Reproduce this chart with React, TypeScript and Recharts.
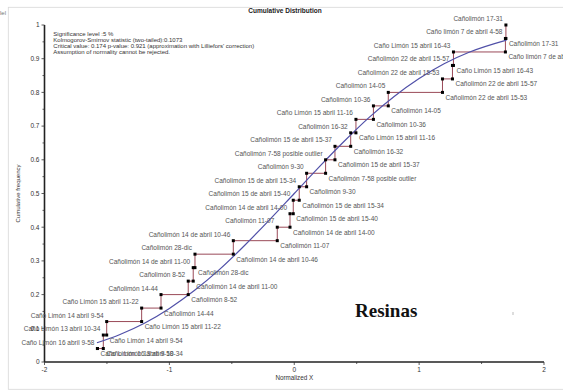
import React from 'react';
import { ComposedChart, Line, Scatter, XAxis, YAxis } from 'recharts';

// ── Observations, sorted by normalized value ─────────────────────────────────
const obsNames = [
  'Caño Limón 16 abril 9-58',
  'Caño Limón 13 abril 10-34',
  'Caño Limón 14 abril 9-54',
  'Caño Limón 15 abril 11-22',
  'Cañolimón 14-44',
  'Cañolimón 8-52',
  'Cañolimón 14 de abril 11-00',
  'Cañolimón 28-dic',
  'Cañolimón 14 de abril 10-46',
  'Cañolimón 11-07',
  'Cañolimón 14 de abril 14-00',
  'Cañolimón 15 de abril 15-40',
  'Cañolimón 15 de abril 15-34',
  'Cañolimón 9-30',
  'Cañolimón 7-58 posible outlier',
  'Cañolimón 15 de abril 15-37',
  'Cañolimón 16-32',
  'Caño Limón 15 abril 11-16',
  'Cañolimón 10-36',
  'Cañolimón 14-05',
  'Cañolimón 22 de abril 15-53',
  'Cañolimón 22 de abril 15-57',
  'Caño Limón 15 abril 16-43',
  'Caño limón 7 de abril 4-58',
  'Cañolimón 17-31',
];

const obsX = [
  -1.576, -1.529, -1.502, -1.222, -1.067, -0.849, -0.809, -0.795, -0.488,
  -0.136, -0.034, -0.008, 0.040, 0.099, 0.251, 0.326, 0.452, 0.494, 0.634,
  0.753, 1.187, 1.267, 1.275, 1.691, 1.695,
];

// cumulative frequency at the bottom and top of each step
const obsLow = [
  0.04, 0.04, 0.08, 0.12, 0.16, 0.2, 0.24, 0.28, 0.32, 0.36, 0.4, 0.44, 0.48,
  0.52, 0.56, 0.6, 0.64, 0.68, 0.72, 0.76, 0.8, 0.84, 0.88, 0.92, 0.96,
];
const obsHigh = [
  0.04, 0.08, 0.12, 0.16, 0.2, 0.24, 0.28, 0.32, 0.36, 0.4, 0.44, 0.48, 0.52,
  0.56, 0.6, 0.64, 0.68, 0.72, 0.76, 0.8, 0.84, 0.88, 0.92, 0.96, 1,
];

// theoretical (normal) cumulative curve
const curveX = [-1.58, -1.4, -1.2, -1.0, -0.8, -0.6, -0.4, -0.2, 0, 0.2, 0.4, 0.6, 0.8, 1.0, 1.2, 1.4, 1.7];
const curveY = [0.057, 0.081, 0.115, 0.159, 0.212, 0.274, 0.345, 0.421, 0.5, 0.579, 0.655, 0.726, 0.788, 0.841, 0.885, 0.919, 0.955];

const xTicks = [-2, -1.5, -1, -0.5, 0, 0.5, 1, 1.5, 2];
const yTicks = [0, 0.05, 0.1, 0.15, 0.2, 0.25, 0.3, 0.35, 0.4, 0.45, 0.5, 0.55, 0.6, 0.65, 0.7, 0.75, 0.8, 0.85, 0.9, 0.95, 1];

const statLines = [
  'Significance level :5 %',
  'Kolmogorov-Smirnov statistic (two-tailed):0.1073',
  "Critical value: 0.174 p-value: 0.921 (approximation with Lilliefors' correction)",
  'Assumption of normality cannot be rejected.',
];

const FONT = "Arial, 'Liberation Sans', sans-serif";
const W = 563;
const H = 390;
const PLOT_LEFT = 44.5;
const PLOT_BOTTOM = 362;

// step points: bottom then top of every observation, labelled on both ends
const stepData = obsX.flatMap((x, i) => [
  { x, y: obsLow[i], name: obsNames[i], side: 'R' },
  { x, y: obsHigh[i], name: obsNames[i], side: 'L' },
]);
const curveData = curveX.map((x, i) => ({ x, y: curveY[i] }));

const XTick = ({ x, payload }: any) => {
  const major = Number.isInteger(payload.value);
  return (
    <g>
      <line x1={x} x2={x} y1={PLOT_BOTTOM} y2={PLOT_BOTTOM + (major ? 3 : 2)} stroke="#333" strokeWidth={0.8} />
      {major && (
        <text x={x} y={PLOT_BOTTOM + 10} textAnchor="middle" fontSize={6.5} fontFamily={FONT} fill="#333">
          {payload.value}
        </text>
      )}
    </g>
  );
};

const YTick = ({ y, payload }: any) => {
  const v = payload.value as number;
  const major = Math.round(v * 100) % 10 === 0;
  const label = v === 0 ? '0' : v === 1 ? '1' : v.toFixed(1);
  return (
    <g>
      <line x1={PLOT_LEFT - (major ? 3 : 2)} x2={PLOT_LEFT} y1={y} y2={y} stroke="#333" strokeWidth={0.8} />
      {major && (
        <text x={PLOT_LEFT - 5} y={y + 2.3} textAnchor="end" fontSize={6.5} fontFamily={FONT} fill="#333">
          {label}
        </text>
      )}
    </g>
  );
};

// dot + observation label
const StepPoint = ({ cx, cy, payload }: any) => {
  const left = payload.side === 'L';
  return (
    <g>
      <rect x={cx - 1.5} y={cy - 1.5} width={3} height={3} fill="#000" />
      <text
        x={left ? cx - 3 : cx + 3}
        y={left ? cy - 4 : cy + 7.5}
        textAnchor={left ? 'end' : 'start'}
        fontSize={6.5}
        fontFamily={FONT}
        fill="#555"
      >
        {payload.name}
      </text>
    </g>
  );
};

export default function App() {
  return (
    <div style={{ position: 'absolute', left: 0, top: 0, width: W, height: H, background: '#fff', overflow: 'hidden' }}>
      <style>{'body{margin:0}'}</style>
      <ComposedChart width={W} height={H} margin={{ top: 25, right: 19, bottom: 8, left: 14.5 }}>
        <XAxis
          type="number"
          dataKey="x"
          domain={[-2, 2]}
          ticks={xTicks}
          interval={0}
          height={20}
          tickLine={false}
          tick={<XTick />}
          axisLine={{ stroke: '#222', strokeWidth: 1.6 }}
        />
        <YAxis
          type="number"
          dataKey="y"
          domain={[0, 1]}
          ticks={yTicks}
          interval={0}
          width={30}
          tickLine={false}
          tick={<YTick />}
          axisLine={{ stroke: '#222', strokeWidth: 1.6 }}
        />
        <Line
          data={stepData}
          dataKey="y"
          type="linear"
          stroke="#9a4a58"
          strokeWidth={1}
          dot={false}
          activeDot={false}
          isAnimationActive={false}
        />
        <Line
          data={curveData}
          dataKey="y"
          type="monotone"
          stroke="#5050a8"
          strokeWidth={1.2}
          dot={false}
          activeDot={false}
          isAnimationActive={false}
        />
        <Scatter data={stepData} dataKey="y" shape={<StepPoint />} isAnimationActive={false} />
      </ComposedChart>

      {/* frame, titles and annotations */}
      <svg width={W} height={H} style={{ position: 'absolute', left: 0, top: 0, pointerEvents: 'none' }}>
        <rect x={8.3} y={7.3} width={600} height={382} fill="none" stroke="#d8d8d8" strokeWidth={0.8} />
        <text x={0} y={15} fontSize={6} fontFamily={FONT} fill="#777">lel</text>
        <text x={285} y={13.3} textAnchor="middle" fontSize={6.5} fontWeight="bold" fontFamily={FONT} fill="#222">
          Cumulative Distribution
        </text>
        {statLines.map((t, i) => (
          <text key={t} x={53.3} y={35.8 + i * 6.2} fontSize={6} fontFamily={FONT} fill="#333">
            {t}
          </text>
        ))}
        <text
          transform="translate(20,193.5) rotate(-90)"
          textAnchor="middle"
          fontSize={6}
          fontFamily={FONT}
          fill="#333"
        >
          Cumulative frequency
        </text>
        <text x={294.3} y={380} textAnchor="middle" fontSize={6.3} fontFamily={FONT} fill="#333">
          Normalized X
        </text>
        <text x={355} y={317} fontSize={19} fontWeight="bold" fontFamily="'Times New Roman', 'Liberation Serif', serif" fill="#111">
          Resinas
        </text>
        <line x1={513} x2={513} y1={312} y2={315} stroke="#aaa" strokeWidth={0.8} />
      </svg>
    </div>
  );
}
